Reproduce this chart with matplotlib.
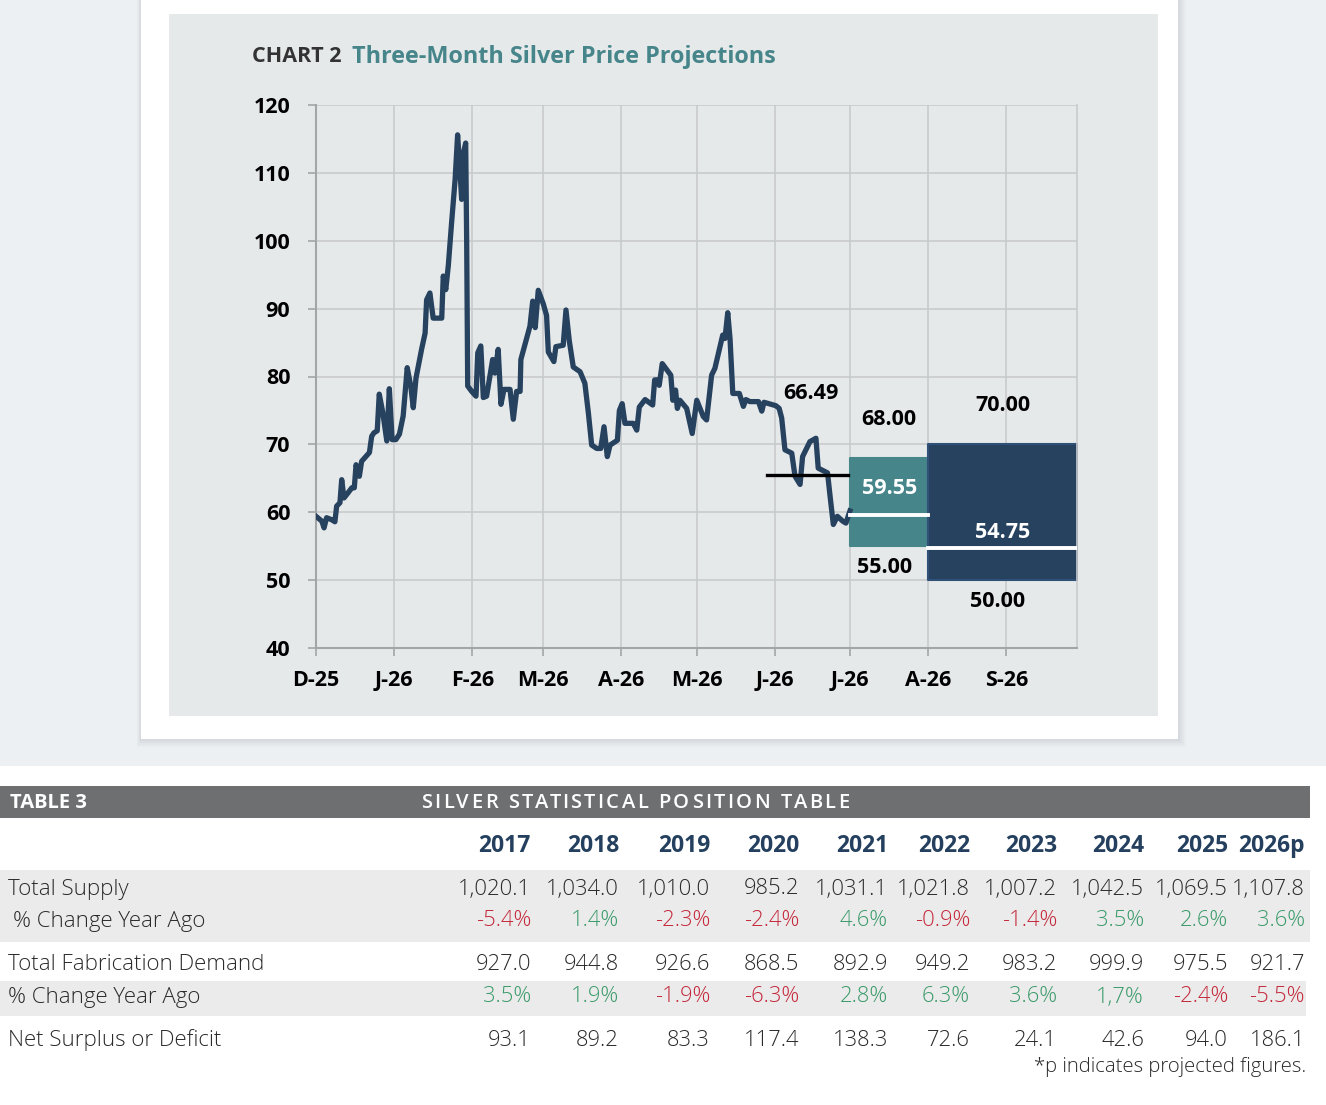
import pandas as pd
import matplotlib
matplotlib.use("Agg")
import matplotlib.pyplot as plt
from matplotlib.patches import Rectangle

plt.rcParams['font.family'] = ['Open Sans', 'DejaVu Sans']

# ---- chart data ----
start_date = pd.Timestamp('2025-12-01')
days = [0, 2.3, 3.2, 4.2, 6.2, 7.5, 8.2, 9.5, 10.2, 11.1,
        12.8, 14.2, 15.2, 15.9, 17.2, 18.1, 19.8, 21.2, 22.1, 23.0,
        24.3, 25.1, 26.5, 28.1, 29.1, 30.2, 31.7, 33.1, 34.6, 36.2,
        37.6, 38.6, 39.7, 41.9, 43.3, 43.9, 45.2, 46.5, 49.9, 50.5,
        51.5, 52.5, 53.8, 55.2, 56.2, 57.1, 57.8, 58.5, 59.4, 59.8,
        60.2, 61.8, 63.5, 64.2, 65.4, 66.4, 67.7, 70.1, 71.0, 72.3,
        73.4, 74.6, 77.0, 78.3, 79.6, 81.0, 81.3, 84.9, 86.0, 87.0,
        88.2, 90.2, 91.5, 92.2, 94.4, 95.2, 98.1, 99.2, 100.5, 102.1,
        104.8, 106.7, 108.1, 109.4, 111.4, 113.0, 114.3, 115.6, 116.7, 119.6,
        120.4, 121.5, 122.6, 125.9, 127.3, 128.3, 130.6, 133.6, 134.4, 135.4,
        136.2, 137.4, 140.8, 141.6, 142.7, 143.4, 144.4, 147.1, 149.3, 151.1,
        153.7, 155.0, 157.0, 158.3, 161.4, 162.3, 163.4, 164.3, 165.4, 168.0,
        169.6, 170.6, 172.2, 175.6, 176.9, 177.8, 182.5, 183.8, 184.8, 186.1,
        188.8, 190.1, 192.1, 193.1, 196.0, 198.4, 199.3, 203.0, 204.0, 205.3,
        206.9, 209.0, 210.3, 211.9]
prices = [59.4, 58.7, 57.7, 59.2, 58.9, 58.6, 60.9, 61.4, 64.8, 62.1,
          62.9, 63.6, 63.6, 67.0, 65.3, 67.5, 68.2, 68.8, 71.2, 71.7,
          72.0, 77.4, 74.7, 70.5, 78.2, 70.7, 70.7, 71.5, 74.2, 81.3,
          78.6, 75.4, 79.8, 84.0, 86.4, 91.3, 92.3, 88.6, 88.6, 94.8,
          92.8, 96.3, 102.6, 109.0, 115.6, 110.5, 106.1, 112.9, 114.4, 99.7,
          78.6, 77.8, 77.1, 83.5, 84.5, 76.9, 77.1, 82.5, 80.5, 84.0,
          75.9, 78.1, 78.1, 73.7, 77.8, 77.8, 82.5, 87.4, 91.1, 87.2,
          92.7, 90.7, 89.0, 83.6, 82.2, 84.4, 84.6, 89.8, 85.3, 81.4,
          80.7, 79.0, 74.6, 69.9, 69.4, 69.4, 72.6, 68.2, 69.9, 70.6,
          75.0, 76.0, 73.1, 73.1, 72.1, 75.5, 76.6, 75.8, 79.5, 79.5,
          78.7, 81.9, 80.2, 76.5, 78.0, 75.3, 76.5, 75.3, 71.6, 76.5,
          74.1, 73.6, 80.2, 81.2, 86.1, 85.6, 89.4, 85.6, 77.5, 77.5,
          75.6, 76.6, 76.3, 76.3, 74.9, 76.2, 75.7, 75.3, 73.9, 69.2,
          68.7, 65.3, 64.1, 68.2, 70.4, 70.9, 66.5, 65.8, 62.4, 58.2,
          59.4, 58.7, 58.4, 60.2]

avg_start, avg_end, avg_value, avg_label = '2026-05-29', '2026-06-30', 65.55, '66.49'
# projection ranges: (start, end, low, high, median)
proj1 = ('2026-07-01', '2026-08-01', 55.00, 68.00, 59.55)
proj2 = ('2026-08-01', '2026-09-29', 50.00, 70.00, 54.75)

month_ticks = pd.date_range('2025-12-01', periods=10, freq='MS')
month_labels = ['D-25', 'J-26', 'F-26', 'M-26', 'A-26', 'M-26', 'J-26', 'J-26', 'A-26', 'S-26']
y_ticks = [40, 50, 60, 70, 80, 90, 100, 110, 120]

# ---- table data ----
years = ['2017', '2018', '2019', '2020', '2021', '2022', '2023', '2024', '2025', '2026p']
total_supply = [1020.1, 1034.0, 1010.0, 985.2, 1031.1, 1021.8, 1007.2, 1042.5, 1069.5, 1107.8]
supply_pct = ['-5.4%', '1.4%', '-2.3%', '-2.4%', '4.6%', '-0.9%', '-1.4%', '3.5%', '2.6%', '3.6%']
fab_demand = [927.0, 944.8, 926.6, 868.5, 892.9, 949.2, 983.2, 999.9, 975.5, 921.7]
fab_pct = ['3.5%', '1.9%', '-1.9%', '-6.3%', '2.8%', '6.3%', '3.6%', '1,7%', '-2.4%', '-5.5%']
net_surplus = [93.1, 89.2, 83.3, 117.4, 138.3, 72.6, 24.1, 42.6, 94.0, 186.1]

NAVY = '#26425f'
TEAL = '#46858a'
PANEL = '#e6e9ea'
RED = '#c4283a'
GREEN = '#3a9a69'
TXT = '#2a2a2a'

W, H = 1326, 1105
fig = plt.figure(figsize=(W / 100, H / 100), dpi=100, facecolor='white')


def fx(px):
    return px / W


def fy(py):
    return 1 - py / H


def box(x0, y0, x1, y1, color, z, **kw):
    fig.add_artist(Rectangle((fx(x0), fy(y1)), fx(x1) - fx(x0), fy(y0) - fy(y1),
                             transform=fig.transFigure, facecolor=color,
                             edgecolor='none', zorder=z, **kw))


# page background, card with soft shadow, grey panel
box(0, 0, W, 766, '#edf0f3', -10)
for i, a in enumerate([0.05, 0.05, 0.06, 0.07]):
    d = 8 - 2 * i
    box(141 - d / 2, 0, 1178 + d, 739 + d, '#8a9096', -9, alpha=a)
box(141, 0, 1178, 739, 'white', -8)
box(169, 14, 1158, 716, PANEL, -7)

# title
fig.text(fx(252), fy(57), 'CHART 2', fontsize=15.5, fontweight='bold',
         color='#333333', va='center', ha='left')
fig.text(fx(352), fy(57), 'Three-Month Silver Price Projections', fontsize=16.8,
         fontweight='bold', color=TEAL, va='center', ha='left')

# ---- chart ----
ax = fig.add_axes([fx(316), fy(648), (1077 - 316) / W, (648 - 105) / H])
ax.set_facecolor(PANEL)

dates = start_date + pd.to_timedelta(days, unit='D')
ax.plot(dates, prices, color=NAVY, lw=3.8, solid_joinstyle='round', zorder=3)

ax.plot([pd.Timestamp(avg_start), pd.Timestamp(avg_end)], [avg_value, avg_value],
        color='black', lw=2.4, zorder=4)
avg_mid = pd.Timestamp(avg_start) + (pd.Timestamp(avg_end) - pd.Timestamp(avg_start)) / 2
ax.text(avg_mid + pd.Timedelta(days=1.5), avg_value + 11.9, avg_label, fontsize=15.5,
        fontweight='bold', color='black', ha='center', va='center')

for (s, e, lo, hi, med), fc, ec in [(proj1, TEAL, TEAL), (proj2, NAVY, '#2f5178')]:
    s, e = pd.Timestamp(s), pd.Timestamp(e)
    ax.fill_between([s, e], lo, hi, facecolor=fc, edgecolor=ec, lw=1.5, zorder=2)
    ax.plot([s, e], [med, med], color='white', lw=2.8, zorder=3)
    mid = s + (e - s) / 2
    ax.text(mid, hi + 5.7, f'{hi:.2f}', fontsize=15.5, fontweight='bold',
            color='black', ha='center', va='center')
    ax.text(mid - pd.Timedelta(days=2), lo - 3.2, f'{lo:.2f}', fontsize=15.5,
            fontweight='bold', color='black', ha='center', va='center')
    ax.text(mid, med + (3.9 if hi - lo < 15 else 2.3), f'{med:.2f}', fontsize=15.5,
            fontweight='bold', color='white', ha='center', va='center', zorder=5)

ax.set_xlim(start_date, pd.Timestamp(proj2[1]))
ax.set_ylim(40, 120)
ax.set_yticks(y_ticks)
ax.set_xticks(month_ticks)
ax.set_xticklabels(month_labels)
ax.grid(True, color='#c9cacc', lw=1.2, zorder=0)
ax.set_axisbelow(True)
for side in ['left', 'bottom']:
    ax.spines[side].set_color('#a4a5a7')
    ax.spines[side].set_linewidth(1.5)
ax.spines['right'].set_color('#c9cacc')
ax.spines['right'].set_linewidth(1.2)
ax.spines['top'].set_visible(False)
ax.tick_params(axis='both', colors='#a4a5a7', length=5.5, width=1.2)
ax.tick_params(axis='y', pad=13, labelsize=15.5, labelcolor='black')
ax.tick_params(axis='x', pad=10, labelsize=15.5, labelcolor='black')
for lab in ax.get_xticklabels() + ax.get_yticklabels():
    lab.set_fontweight('bold')

# ---- table ----
box(0, 786, 1310, 818, '#6e6f71', 1)
fig.text(fx(10), fy(803), 'TABLE 3', fontsize=14.5, fontweight='bold', color='white',
         va='center', ha='left')

# letter-spaced header
heading = 'SILVER STATISTICAL POSITION TABLE'
h_left, h_right = 421, 849
r = fig.canvas.get_renderer()
probe = fig.text(0, 0, '|', fontsize=14.5, fontweight='semibold')
prop = probe.get_fontproperties()
probe.remove()


def adv(s):
    w_bar = r.get_text_width_height_descent('|', prop, ismath=False)[0]
    return r.get_text_width_height_descent(s + '|', prop, ismath=False)[0] - w_bar


natural = adv(heading)
spacing = (h_right - h_left - natural) / (len(heading) - 1)
for i, ch in enumerate(heading):
    if ch == ' ':
        continue
    x = h_left + adv(heading[:i]) + i * spacing
    fig.text(fx(x), fy(803), ch, fontproperties=prop, color='white',
             va='center', ha='left', zorder=2)

col_right = [531, 619, 710, 799, 888, 970, 1057, 1144, 1228, 1305]
for x, yr in zip(col_right, years):
    fig.text(fx(x), fy(846), yr, fontsize=16.5, fontweight='bold', color='#24405e',
             ha='right', va='center')

box(0, 870, 1310, 942, '#ebebec', 0)
box(0, 981, 1306, 1016, '#ebebec', 0)

rows = [
    ('Total Supply', 8, 889, [f'{v:,.1f}' for v in total_supply], False),
    ('% Change Year Ago', 13, 921, supply_pct, True),
    ('Total Fabrication Demand', 8, 964, [f'{v:,.1f}' for v in fab_demand], False),
    ('% Change Year Ago', 8, 997, fab_pct, True),
    ('Net Surplus or Deficit', 8, 1040, [f'{v:,.1f}' for v in net_surplus], False),
]
for label, lx, y, vals, colored in rows:
    fig.text(fx(lx), fy(y), label, fontsize=16, fontweight='light', color=TXT,
             ha='left', va='center')
    for x, v in zip(col_right, vals):
        c = (RED if v.startswith('-') else GREEN) if colored else TXT
        fig.text(fx(x), fy(y), v, fontsize=15.8, fontweight='light', color=c,
                 ha='right', va='center')

fig.text(fx(1306), fy(1067), '*p indicates projected figures.', fontsize=14.6,
         fontweight='light', color=TXT, ha='right', va='center')

fig.savefig('out.png', dpi=100, facecolor=fig.get_facecolor())
